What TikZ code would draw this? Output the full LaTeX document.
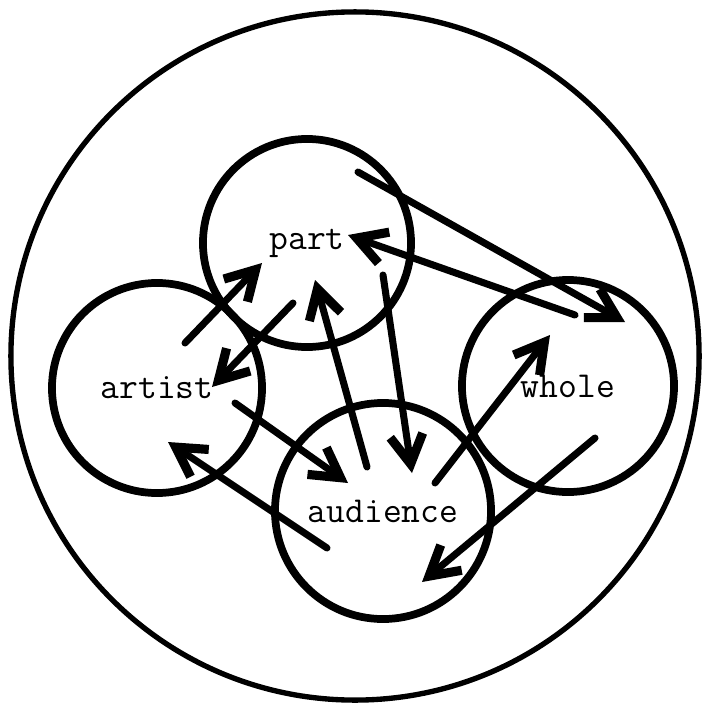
\documentclass[tikz,border=0pt]{standalone}
\usepackage{fontspec}
\usetikzlibrary{arrows.meta}
\tikzset{
  ring/.style={circle, draw, line width=5.5pt, inner sep=0pt,
    font=\ttfamily\fontsize{26}{30}\selectfont},
  link/.style={line width=5pt, line cap=round,
    -{Straight Barb[length=0.72cm, width=0.82cm, line width=6.5pt]}},
}
\begin{document}
\begin{tikzpicture}[x=0.025cm, y=-0.025cm]
  \useasboundingbox (0,0) rectangle (703,711);

  % Circles
  \node[ring, line width=3.8pt, minimum size=17.2cm] (world) at (355,356) {};
  \node[ring, minimum size=5.2cm]  (part)   at (307,243) {part};
  \node[ring, minimum size=5.25cm] (artist) at (157,388) {artist};
  \node[ring, minimum size=5.4cm]  (aud)    at (383,511) {audience};
  \node[ring, minimum size=5.3cm]  (whole)  at (568,386) {whole};

  % Arrow ends
  \coordinate (ap0) at (185,343); \coordinate (ap1) at (262,263);
  \coordinate (pa0) at (293,303); \coordinate (pa1) at (212,387);
  \coordinate (au0) at (235,403); \coordinate (au1) at (348,483);
  \coordinate (ua0) at (327,548); \coordinate (ua1) at (168,442);
  \coordinate (up0) at (367,467); \coordinate (up1) at (315,280);
  \coordinate (pu0) at (383,275); \coordinate (pu1) at (412,473);
  \coordinate (uw0) at (435,483); \coordinate (uw1) at (550,335);
  \coordinate (wu0) at (595,438); \coordinate (wu1) at (422,582);
  \coordinate (wp0) at (575,315); \coordinate (wp1) at (348,235);
  \coordinate (pw0) at (358,172); \coordinate (pw1) at (625,322);

  \foreach \e in {ap,pa,au,ua,up,pu,uw,wu,wp,pw}
    \draw[link] (\e0) -- (\e1);
\end{tikzpicture}
\end{document}
